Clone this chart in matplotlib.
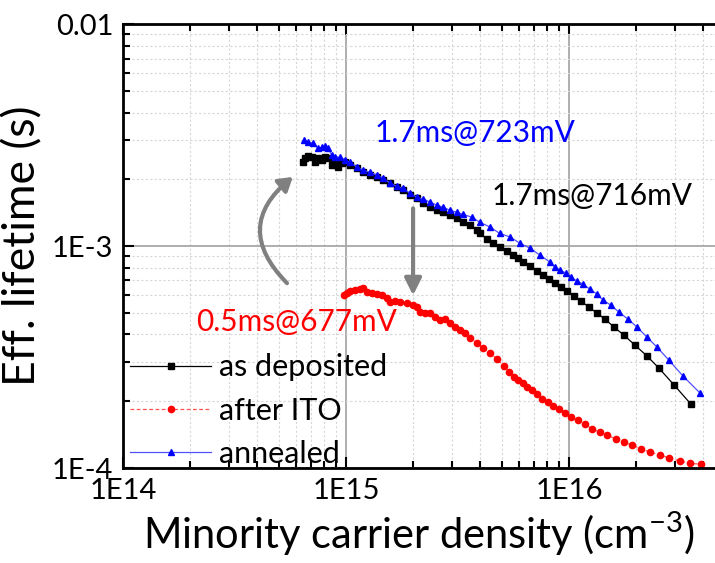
import matplotlib
matplotlib.use('Agg')
import matplotlib.pyplot as plt
from matplotlib.patches import FancyArrowPatch
from matplotlib.ticker import LogLocator, FixedLocator, FixedFormatter, NullFormatter

plt.rcParams['font.family'] = ['Lato', 'DejaVu Sans']
plt.rcParams['mathtext.fontset'] = 'custom'
plt.rcParams['mathtext.rm'] = 'Lato'

# as deposited
dep_x = [6.42e14, 6.55e14, 6.75e14, 7.04e14, 7.26e14, 7.49e14, 7.81e14, 8.05e14, 8.30e14, 8.65e14,
         8.93e14, 9.21e14, 9.60e14, 9.90e14, 1.04e15, 1.12e15, 1.19e15, 1.28e15, 1.38e15, 1.47e15,
         1.58e15, 1.69e15, 1.80e15, 1.94e15, 2.08e15, 2.21e15, 2.38e15, 2.56e15, 2.72e15, 2.93e15,
         3.15e15, 3.35e15, 3.60e15, 3.87e15, 3.99e15, 4.29e15, 4.56e15, 4.90e15, 5.27e15, 5.61e15,
         5.91e15, 6.22e15, 6.69e15, 7.19e15, 7.64e15, 8.13e15, 8.65e15, 9.21e15, 9.79e15, 1.053e16,
         1.132e16, 1.229e16, 1.336e16, 1.450e16, 1.591e16, 1.765e16, 1.977e16, 2.238e16, 2.533e16,
         2.958e16, 3.525e16]
dep_y = [2.39e-3, 2.49e-3, 2.54e-3, 2.52e-3, 2.39e-3, 2.49e-3, 2.44e-3, 2.52e-3, 2.49e-3, 2.32e-3,
         2.37e-3, 2.27e-3, 2.37e-3, 2.39e-3, 2.32e-3, 2.25e-3, 2.15e-3, 2.09e-3, 2.05e-3, 1.98e-3,
         1.92e-3, 1.84e-3, 1.79e-3, 1.70e-3, 1.65e-3, 1.56e-3, 1.50e-3, 1.45e-3, 1.42e-3, 1.38e-3,
         1.34e-3, 1.28e-3, 1.24e-3, 1.18e-3, 1.14e-3, 1.075e-3, 1.03e-3, 9.90e-4, 9.49e-4, 9.11e-4,
         8.83e-4, 8.47e-4, 8.13e-4, 7.72e-4, 7.40e-4, 7.10e-4, 6.81e-4, 6.53e-4, 6.27e-4, 5.95e-4,
         5.65e-4, 5.31e-4, 4.99e-4, 4.69e-4, 4.32e-4, 3.97e-4, 3.58e-4, 3.20e-4, 2.82e-4,
         2.37e-4, 1.94e-4]

# after ITO
ito_x = [9.80e14, 1.01e15, 1.04e15, 1.10e15, 1.16e15, 1.19e15, 1.24e15, 1.31e15, 1.38e15, 1.45e15,
         1.53e15, 1.58e15, 1.66e15, 1.75e15, 1.88e15, 2.00e15, 2.08e15, 2.15e15, 2.26e15, 2.38e15,
         2.51e15, 2.64e15, 2.78e15, 2.93e15, 3.08e15, 3.25e15, 3.42e15, 3.60e15, 3.87e15, 4.12e15,
         4.42e15, 4.75e15, 5.11e15, 5.38e15, 5.67e15, 5.91e15, 6.22e15, 6.48e15, 6.83e15, 7.19e15,
         7.57e15, 8.05e15, 8.48e15, 9.02e15, 9.60e15, 1.021e16, 1.098e16, 1.180e16, 1.268e16,
         1.377e16, 1.480e16, 1.625e16, 1.765e16, 1.917e16, 2.103e16, 2.308e16, 2.559e16, 2.808e16,
         3.146e16, 3.488e16, 3.908e16]
ito_y = [6.02e-4, 6.14e-4, 6.27e-4, 6.33e-4, 6.40e-4, 6.47e-4, 6.21e-4, 6.14e-4, 6.08e-4, 6.02e-4,
         5.83e-4, 5.59e-4, 5.65e-4, 5.59e-4, 5.54e-4, 5.42e-4, 5.31e-4, 5.04e-4, 4.99e-4, 4.99e-4,
         4.79e-4, 4.64e-4, 4.69e-4, 4.50e-4, 4.32e-4, 4.18e-4, 4.06e-4, 3.85e-4, 3.66e-4, 3.47e-4,
         3.30e-4, 3.10e-4, 2.88e-4, 2.71e-4, 2.57e-4, 2.49e-4, 2.41e-4, 2.32e-4, 2.25e-4, 2.15e-4,
         2.05e-4, 1.98e-4, 1.90e-4, 1.84e-4, 1.77e-4, 1.70e-4, 1.64e-4, 1.58e-4, 1.50e-4,
         1.45e-4, 1.41e-4, 1.35e-4, 1.31e-4, 1.27e-4, 1.22e-4, 1.18e-4, 1.145e-4, 1.11e-4,
         1.075e-4, 1.05e-4, 1.04e-4]

# annealed
ann_x = [6.48e14, 6.75e14, 7.11e14, 7.49e14, 7.81e14, 8.05e14, 8.30e14, 8.65e14, 8.93e14, 9.40e14,
         9.90e14, 1.04e15, 1.12e15, 1.19e15, 1.28e15, 1.38e15, 1.47e15, 1.58e15, 1.69e15, 1.80e15,
         1.94e15, 2.08e15, 2.21e15, 2.38e15, 2.56e15, 2.72e15, 2.93e15, 3.15e15, 3.35e15, 3.67e15,
         3.99e15, 4.42e15, 4.90e15, 5.44e15, 6.03e15, 6.69e15, 7.41e15, 8.22e15, 8.65e15, 9.11e15,
         9.69e15, 1.021e16, 1.086e16, 1.155e16, 1.242e16, 1.336e16, 1.421e16, 1.543e16, 1.676e16,
         1.839e16, 2.018e16, 2.238e16, 2.481e16, 2.808e16, 3.245e16, 3.867e16]
ann_y = [3.00e-3, 2.94e-3, 2.91e-3, 2.76e-3, 2.79e-3, 2.82e-3, 2.76e-3, 2.57e-3, 2.52e-3, 2.52e-3,
         2.44e-3, 2.39e-3, 2.27e-3, 2.20e-3, 2.15e-3, 2.09e-3, 2.02e-3, 1.92e-3, 1.86e-3, 1.82e-3,
         1.73e-3, 1.66e-3, 1.63e-3, 1.58e-3, 1.53e-3, 1.50e-3, 1.45e-3, 1.42e-3, 1.39e-3, 1.35e-3,
         1.28e-3, 1.22e-3, 1.14e-3, 1.10e-3, 1.03e-3, 9.79e-4, 9.11e-4, 8.47e-4, 8.04e-4, 7.80e-4,
         7.56e-4, 7.25e-4, 6.96e-4, 6.74e-4, 6.40e-4, 6.08e-4, 5.71e-4, 5.42e-4, 5.04e-4,
         4.69e-4, 4.32e-4, 3.89e-4, 3.51e-4, 3.06e-4, 2.60e-4, 2.18e-4]

fig = plt.figure(figsize=(7.15, 5.63), dpi=100)
ax = fig.add_axes([0.172, 0.1687, 0.828, 0.7883])

ax.plot(dep_x, dep_y, '-', color='black', lw=0.9, marker='s', ms=4, mec='black', mfc='black',
        label='as deposited')
ax.plot(ito_x, ito_y, '--', color='#ff5050', lw=0.9, marker='o', ms=4.5, mec='red', mfc='red',
        label='after ITO', dashes=(3, 2))
ax.plot(ann_x, ann_y, '-', color='#5050ff', lw=0.9, marker='^', ms=5, mec='blue', mfc='blue',
        label='annealed')

ax.set_xscale('log')
ax.set_yscale('log')
ax.set_xlim(1e14, 4.52e16)
ax.set_ylim(1e-4, 1e-2)

ax.xaxis.set_major_locator(FixedLocator([1e14, 1e15, 1e16]))
ax.xaxis.set_major_formatter(FixedFormatter(['1E14', '1E15', '1E16']))
ax.yaxis.set_major_locator(FixedLocator([1e-4, 1e-3, 1e-2]))
ax.yaxis.set_major_formatter(FixedFormatter(['1E-4', '1E-3', '0.01']))
ax.xaxis.set_minor_locator(LogLocator(base=10, subs=range(2, 10), numticks=20))
ax.yaxis.set_minor_locator(LogLocator(base=10, subs=range(2, 10), numticks=20))
ax.xaxis.set_minor_formatter(NullFormatter())
ax.yaxis.set_minor_formatter(NullFormatter())

ax.grid(True, which='major', color='#a8a8a8', lw=1.3)
ax.grid(True, which='minor', color='#d6d6d6', lw=0.8, ls=(0, (2, 2)))
ax.set_axisbelow(True)

ax.tick_params(which='both', direction='in', top=True, right=False, width=1.5, colors='black')
ax.tick_params(which='major', length=8, labelsize=21, pad=7)
ax.tick_params(which='minor', length=5)
for s in ['left', 'bottom', 'top']:
    ax.spines[s].set_linewidth(2)
ax.spines['right'].set_visible(False)

ax.set_xlabel('Minority carrier density (cm$^{\\mathrm{-3}}$)', fontsize=30, labelpad=4)
ax.set_ylabel('Eff. lifetime (s)', fontsize=32, labelpad=6)

ax.text(1.35e15, 3.23e-3, '1.7ms@723mV', color='blue', fontsize=21.5, va='center', ha='left')
ax.text(4.48e15, 1.68e-3, '1.7ms@716mV', color='black', fontsize=21.5, va='center', ha='left')
ax.text(2.12e14, 4.55e-4, '0.5ms@677mV', color='red', fontsize=21.5, va='center', ha='left')

ax.add_patch(FancyArrowPatch((5.44e14, 6.81e-4), (5.78e14, 2.05e-3),
                             connectionstyle='arc3,rad=-0.55', arrowstyle='-|>,head_length=8,head_width=5',
                             color='#808080', lw=3, shrinkA=0, shrinkB=0))
ax.add_patch(FancyArrowPatch((2.0e15, 1.48e-3), (2.0e15, 6.0e-4),
                             arrowstyle='-|>,head_length=10,head_width=5',
                             color='#808080', lw=3, shrinkA=0, shrinkB=0))

ax.legend(loc='lower left', bbox_to_anchor=(0.012, 0.0), frameon=False, fontsize=22,
          handlelength=2.65, handletextpad=0.25, labelspacing=0.5, borderaxespad=0, borderpad=0)

fig.savefig('out.png', dpi=100)
